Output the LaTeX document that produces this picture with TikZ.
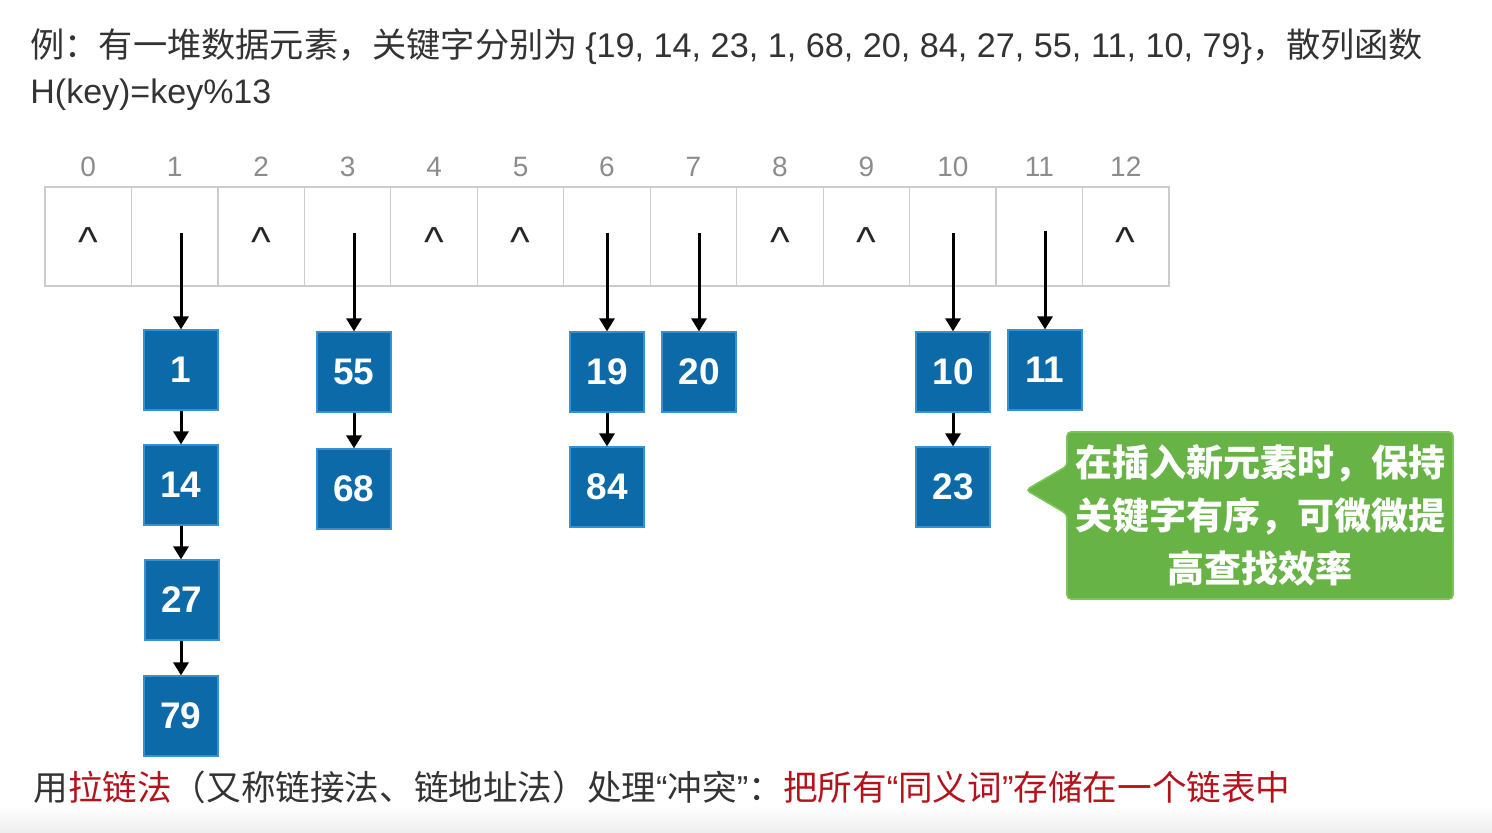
\documentclass[tikz,border=0pt]{standalone}
\usepackage{fontspec}
\newfontfamily\cjk{Noto Sans CJK SC}
\newfontfamily\lat{Liberation Sans}
\usetikzlibrary{arrows.meta}
\definecolor{boxblue}{HTML}{0D6AA8}
\definecolor{boxedge}{HTML}{3A8FD0}
\definecolor{calloutgreen}{HTML}{67B346}
\definecolor{calloutedge}{HTML}{7DC45C}
\definecolor{textdark}{HTML}{333333}
\definecolor{idxgray}{HTML}{8C8C8C}
\definecolor{cellgray}{HTML}{CCCCCC}
\definecolor{noteRed}{HTML}{B5121B}
\newcommand{\myOpenQ}{{\lat “}}
\newcommand{\myCloseQ}{{\lat ”}}
\begin{document}
\begin{tikzpicture}[x=0.5pt,y=-0.5pt,
 cell/.style={draw=cellgray, line width=0.6pt, minimum width=43.23pt, minimum height=49.5pt, inner sep=0pt},
 idx/.style={text=idxgray, font=\lat\fontsize{14}{16}\selectfont, anchor=base, inner sep=0pt},
 nil/.style={text=black!85, font=\lat\fontsize{21}{23}\selectfont, anchor=base, inner sep=0pt},
 keybox/.style={fill=boxblue, draw=boxedge, line width=0.6pt, minimum width=37pt, minimum height=40pt, inner sep=0pt, text=white, font=\lat\bfseries\fontsize{18.5}{20}\selectfont},
 link/.style={line width=1.5pt, -{Triangle[length=6.5pt,width=7.5pt]}},
 plain/.style={anchor=base west, inner sep=0pt, text=textdark},
]
\useasboundingbox (0,0) rectangle (1492,833);
\shade[top color=white, bottom color=black!7] (0,806) rectangle (1492,833);

% title
\node[plain] (title1) at (30,58) {{\cjk\fontsize{17.1}{20}\selectfont 例：有一堆数据元素，关键字分别为 }{\lat\fontsize{17.1}{20}\selectfont \{19, 14, 23, 1, 68, 20, 84, 27, 55, 11, 10, 79\}}{\cjk\fontsize{17.1}{20}\selectfont ，散列函数}};
\node[plain, font=\lat\fontsize{17}{20}\selectfont] (title2) at (30,104) {H(key)=key\%13};

% table
\foreach \i in {0,...,12} {
  \node[cell] (c\i) at ({88.23+\i*86.46},236.5) {};
  \node[idx] (i\i) at ({88.23+\i*86.46},177) {\i};
}
\foreach \i in {0,2,4,5,8,9,12} {
  \node[nil] (n\i) at ({88.23+\i*86.46},257) {\textasciicircum};
}

% key boxes
\node[keybox] (b1)  at (181,370) {1};
\node[keybox] (b14) at (181,485) {14};
\node[keybox] (b27) at (182,600) {27};
\node[keybox] (b79) at (181,716) {79};
\node[keybox] (b55) at (354,372) {55};
\node[keybox] (b68) at (354,489) {68};
\node[keybox] (b19) at (607,372) {19};
\node[keybox] (b84) at (607,487) {84};
\node[keybox] (b20) at (699,372) {20};
\node[keybox] (b10) at (953,372) {10};
\node[keybox] (b23) at (953,487) {23};
\node[keybox] (b11) at (1045,370) {11};

% pointer starts
\coordinate (s1) at (181,233);
\coordinate (s3) at (354,233);
\coordinate (s6) at (607,233);
\coordinate (s7) at (699,233);
\coordinate (s10) at (953,233);
\coordinate (s11) at (1045,231);

\draw[link] (s1) -- (b1.north);
\draw[link] (s3) -- (b55.north);
\draw[link] (s6) -- (b19.north);
\draw[link] (s7) -- (b20.north);
\draw[link] (s10) -- (b10.north);
\draw[link] (s11) -- (b11.north);
\draw[link] (b1.south) -- (b14.north);
\draw[link] (b14.south) -- (b27.north -| b14.south);
\draw[link] (b27.south -| b79.north) -- (b79.north);
\draw[link] (b55.south) -- (b68.north);
\draw[link] (b19.south) -- (b84.north);
\draw[link] (b10.south) -- (b23.north);

% callout
\draw[fill=calloutgreen, draw=calloutedge, line width=0.8pt, rounded corners=2pt]
  (1067,432) -- (1453,432) -- (1453,599) -- (1067,599) -- (1067,514) -- (1026,490) -- (1067,466) -- cycle;
\node[text=white, font=\cjk\bfseries\fontsize{18.5}{26.5}\selectfont, align=center, inner sep=0pt] (note) at (1260,515) {在插入新元素时，保持\\关键字有序，可微微提\\高查找效率};

% summary
\node[plain, font=\cjk\fontsize{17.3}{20}\selectfont] (summary) at (33,800) {用\textcolor{noteRed}{拉链法}（又称链接法、链地址法）处理\myOpenQ 冲突\myCloseQ ：\textcolor{noteRed}{把所有\myOpenQ 同义词\myCloseQ 存储在一个链表中}};
\end{tikzpicture}
\end{document}
